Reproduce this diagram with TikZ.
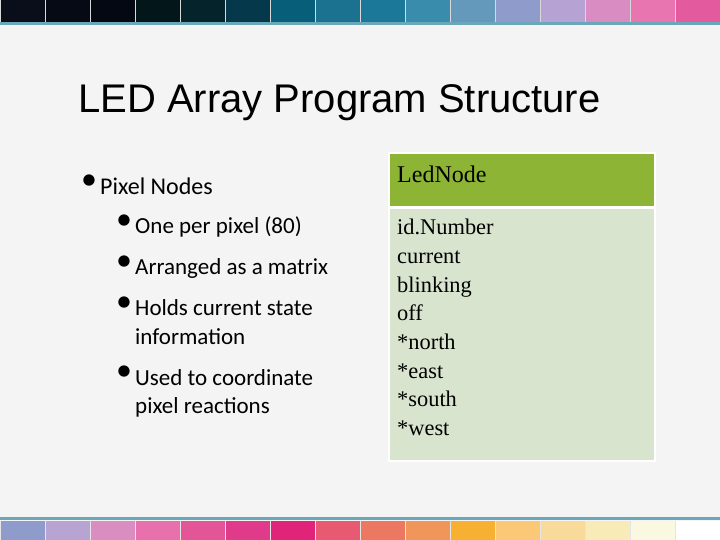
\documentclass[tikz,border=0pt]{standalone}
\usepackage{fontspec}
\setmainfont{Carlito}
\newfontfamily\titlefont{Liberation Sans}
\newfontfamily\tabfont{Liberation Serif}
\begin{document}
\begin{tikzpicture}[x=1pt,y=-1pt,
  txt/.style={anchor=west,inner sep=0pt,font=\fontsize{24}{28}\selectfont},
  txts/.style={anchor=west,inner sep=0pt,font=\fontsize{23}{28}\selectfont},
  bul/.style={anchor=center,inner sep=0pt,font=\fontsize{32}{32}\selectfont},
  tab/.style={anchor=north west,inner sep=0pt,align=left,font=\tabfont\fontsize{22.4}{28.7}\selectfont}]
\useasboundingbox (0,0) rectangle (720,540);
\fill[color={rgb,255:red,244;green,244;blue,244}] (0,0) rectangle (720,540);
\foreach \c [count=\i from 0] in {0A0E1A,050A14,040812,03161A,04232A,04384A,075E78,1A7290,1C7898,3A8CAC,6499BB,8F9CCB,B7A3D3,D98CC2,E874B0,E45A9E}{
  \definecolor{tc}{HTML}{\c}
  \fill[tc] (\i*45,0) rectangle (\i*45+45,22);
  \draw[white!70!gray,line width=0.6pt] (\i*45,0) -- (\i*45,22);
}
\definecolor{teal}{HTML}{6AA7B8}
\fill[teal] (0,22) rectangle (720,25.5);
\fill[teal] (0,516.5) rectangle (720,520);
\foreach \c [count=\i from 0] in {8F9CCB,B8A4D2,D98DC0,E870AC,E45598,E03A8A,E0247A,E85A72,EC7862,F0965A,F7B032,FBC878,F8DA9A,F8EBB8,FAF8E0,FFFFFF}{
  \definecolor{bc}{HTML}{\c}
  \fill[bc] (\i*45,521) rectangle (\i*45+45,540);
  \draw[white!80!gray,line width=0.6pt] (\i*45,521) -- (\i*45,540);
}
\node[anchor=west,inner sep=0pt,font=\titlefont\fontsize{40}{44}\selectfont] (title) at (78,103) {LED Array Program Structure};
\node[bul] (b0) at (89,182) {•};
\node[txt] (t0) at (100,186) {Pixel Nodes};
\node[bul] (b1) at (124,222) {•};
\node[txts] (t1) at (135,227) {One per pixel (80)};
\node[bul] (b2) at (124,263) {•};
\node[txts] (t2) at (135,268) {Arranged as a matrix};
\node[bul] (b3) at (124,304) {•};
\node[txts] (t3) at (135,308) {Holds current state};
\node[txts] (t3b) at (135,337) {information};
\node[bul] (b4) at (124,373) {•};
\node[txts] (t4) at (135,378) {Used to coordinate};
\node[txts] (t4b) at (135,407) {pixel reactions};
\definecolor{hdr}{HTML}{8DB434}
\definecolor{bdy}{HTML}{D8E4CE}
\fill[white] (388,152) rectangle (656,462);
\fill[hdr] (390,154) rectangle (654,206);
\fill[bdy] (390,209) rectangle (654,460);
\node[tab,anchor=west,font=\tabfont\fontsize{24}{28}\selectfont] (h) at (397,174) {LedNode};
\node[tab] (body) at (397,219) {id.Number\\current\\blinking\\off\\*north\\*east\\*south\\*west};
\end{tikzpicture}
\end{document}
